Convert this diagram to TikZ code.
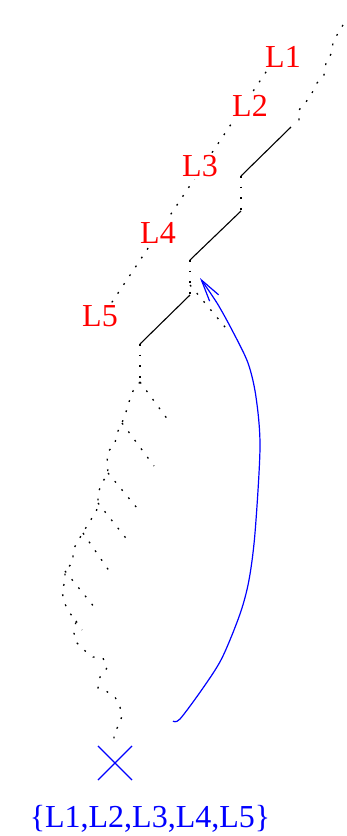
\documentclass[tikz,border=0pt]{standalone}
\usepackage{fontspec}
\setmainfont{Liberation Serif}
\usetikzlibrary{arrows.meta,shapes.misc}

\begin{document}
\begin{tikzpicture}[
  x=1pt, y=-1pt,
  lbl/.style={text=red, fill=white, inner sep=2pt, font=\fontsize{32}{38}\selectfont},
  walk/.style={line width=1.3pt, dash pattern=on 1.8pt off 8.8pt},
  rise/.style={line width=1.1pt},
  move/.style={blue, line width=1.2pt, -{Straight Barb[length=22pt, width=11pt]}}
]
\useasboundingbox (0,0) rectangle (347,836);

\coordinate (d0) at (100,320);
\coordinate (d1) at (270,66);
\draw[walk] (d0) -- (d1);
\node[lbl] (l1) at (283,57) {L1};
\node[lbl] (l2) at (250,106) {L2};
\node[lbl] (l3) at (200,166) {L3};
\node[lbl] (l4) at (158,233) {L4};
\node[lbl] (l5) at (100,316) {L5};

\coordinate (top) at (343,25);
\coordinate (c0) at (299,124);
\coordinate (c1) at (291,127);
\coordinate (c2) at (241,176);
\coordinate (c3) at (241,211);
\coordinate (c4) at (190,260);
\coordinate (c5) at (190,295);
\coordinate (c6) at (140,344);
\coordinate (c7) at (140,382);

\draw[walk] (top) -- (338,33) -- (333,43) -- (331,54) -- (326,63) -- (324,75) -- (317,83)
  -- (312,93) -- (306,102) -- (299,110) -- (c0);
\draw[rise] (c1) -- (c2);
\draw[walk] (c2) -- (c3);
\draw[rise] (c3) -- (c4);
\draw[walk] (c4) -- (c5);
\draw[rise] (c5) -- (c6);
\draw[walk] (c6) -- (c7);

\node[cross out, draw=blue, line width=1.1pt, minimum size=33pt, inner sep=0pt] (x0) at (115,763) {};
\node[text=blue, inner sep=0pt, font=\fontsize{32}{38}\selectfont] (set) at (150,819) {\{L1,L2,L3,L4,L5\}};

\coordinate (r0) at (190,285);
\coordinate (r2) at (122,423);
\coordinate (r3) at (108,473);
\coordinate (r4) at (98,503);
\coordinate (r5) at (83,533);
\coordinate (r6) at (65,571);
\coordinate (r7) at (76,621);

\draw[walk] (c7) -- (133,391) -- (129,402) -- (126,412) -- (r2) -- (117,433) -- (115,443)
  -- (108,452) -- (107,463) -- (r3) -- (102,483) -- (98,493) -- (r4) -- (96,513) -- (89,522)
  -- (r5) -- (77,542) -- (73,551) -- (73,562) -- (r6) -- (65,581) -- (62,591) -- (64,602)
  -- (69,612) -- (r7) -- (74,633) -- (76,642) -- (84,650) -- (93,657) -- (103,658) -- (107,668)
  -- (100,677) -- (98,688) -- (106,691) -- (115,697) -- (120,707) -- (122,716) -- (119,725)
  -- (114,733) -- (114,743) -- (x0);

\coordinate (e0) at (230,333);
\coordinate (e1) at (171,424);
\coordinate (e2) at (154,466);
\coordinate (e3) at (137,508);
\coordinate (e4) at (129,542);
\coordinate (e5) at (112,575);
\coordinate (e6) at (95,608);
\coordinate (e7) at (82,630);

\draw[walk] (r0) -- (e0);
\draw[walk] (c7) -- (e1);
\draw[walk] (r2) -- (e2);
\draw[walk] (r3) -- (e3);
\draw[walk] (r4) -- (e4);
\draw[walk] (r5) -- (e5);
\draw[walk] (r6) -- (e6);
\draw[walk] (r7) -- (e7);

\coordinate (m0) at (173,721);
\coordinate (m1) at (200,278);
\draw[move] plot[smooth, tension=0.5] coordinates {(m0) (180,719) (203,688) (222,658) (240,614)
  (249,580) (255,533) (260,447) (256,397) (248,363) (232,330) (217,303) (m1)};
\end{tikzpicture}
\end{document}
